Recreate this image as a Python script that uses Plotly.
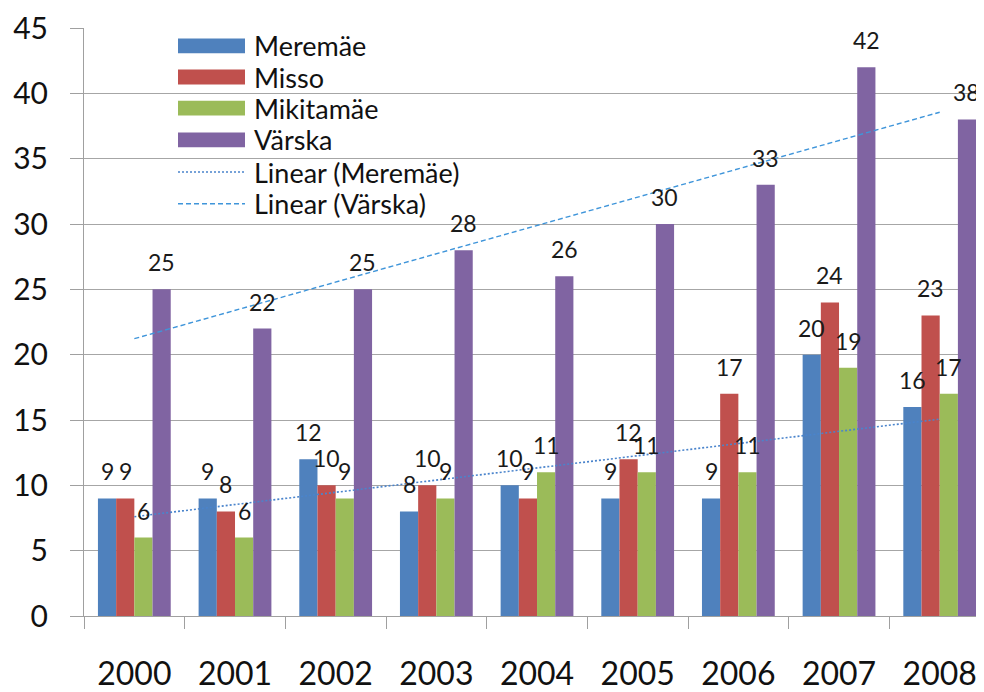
import numpy as np
import plotly.graph_objects as go

years = ["2000", "2001", "2002", "2003", "2004", "2005", "2006", "2007", "2008"]
meremae = [9, 9, 12, 8, 10, 9, 9, 20, 16]
misso = [9, 8, 10, 10, 9, 12, 17, 24, 23]
mikitamae = [6, 6, 9, 9, 11, 11, 11, 19, 17]
varska = [25, 22, 25, 28, 26, 30, 33, 42, 38]

series_names = ["Meremäe", "Misso", "Mikitamäe", "Värska"]
series_values = [meremae, misso, mikitamae, varska]
colors = ["#4F81BD", "#C0504D", "#9BBB59", "#8064A2"]

OFF = 8  # page body margin
W, H = 984 - OFF, 692 - OFF
ML, MR, MT, MB = 84 - OFF, 0, 23 - OFF, 75
PW, PH = W - ML - MR, H - MT - MB
XR = [-0.5, 8.44]
BARGAP = 0.277
FONT = "Lato"
TREND_M = dict(color="#4A84CC", dash="2px,2px", width=1.6)
TREND_V = dict(color="#3F95DA", dash="5px,3px", width=1.4)

fig = go.Figure()
for name, vals, col in zip(series_names, series_values, colors):
    fig.add_trace(go.Bar(x=years, y=vals, name=name,
                         marker=dict(color=col, line=dict(width=0)), showlegend=False))

# linear trendlines computed from data
idx = np.arange(len(years))
for vals, style in [(meremae, TREND_M), (varska, TREND_V)]:
    k, b = np.polyfit(idx, vals, 1)
    fig.add_trace(go.Scatter(x=years, y=k * idx + b, mode="lines", showlegend=False,
                             line=style, hoverinfo="skip"))

# data labels
cat_px = PW / (XR[1] - XR[0])
bar_px = cat_px * (1 - BARGAP) / len(series_names)
annotations = []
for i, vals in enumerate(series_values):
    off = (i - (len(series_names) - 1) / 2) * bar_px
    for j, v in enumerate(vals):
        annotations.append(dict(x=j, y=v, xref="x", yref="y", text=str(v), showarrow=False,
                                xshift=off, yshift=27, yanchor="middle", xanchor="center",
                                font=dict(family=FONT, size=23, color="#1a1a1a")))

# custom legend (page pixel coordinates -> paper)
def px_x(p):
    return (p - OFF - ML) / PW

def px_y(p):
    return 1 - (p - OFF - MT) / PH

shapes = []
leg_rows = [41, 72.5, 104, 136, 168.5, 200.5]
leg_labels = series_names + ["Linear (Meremäe)", "Linear (Värska)"]
for r, (yc, lab) in enumerate(zip(leg_rows, leg_labels)):
    if r < 4:
        shapes.append(dict(type="rect", xref="paper", yref="paper",
                           x0=px_x(178), x1=px_x(245), y0=px_y(yc + 7.5), y1=px_y(yc - 7.5),
                           fillcolor=colors[r], line=dict(width=0)))
    else:
        style = TREND_M if r == 4 else TREND_V
        shapes.append(dict(type="line", xref="paper", yref="paper",
                           x0=px_x(178), x1=px_x(245), y0=px_y(yc), y1=px_y(yc),
                           line=dict(color=style["color"], dash=style["dash"], width=1.4)))
    annotations.append(dict(x=px_x(252), y=px_y(yc), xref="paper", yref="paper", text=lab,
                            showarrow=False, xanchor="left", yanchor="middle",
                            font=dict(family=FONT, size=27, color="#111")))

fig.update_layout(
    width=W, height=H,
    margin=dict(l=ML, r=MR, t=MT, b=MB, pad=0),
    paper_bgcolor="white", plot_bgcolor="white",
    barmode="group", bargap=BARGAP, bargroupgap=0,
    showlegend=False,
    annotations=annotations, shapes=shapes,
    font=dict(family=FONT, color="#111"),
)
fig.update_xaxes(type="category", range=XR, showline=True, linecolor="#A0A0A0", linewidth=1,
                 ticks="outside", ticklen=12, tickcolor="#A0A0A0", tickson="boundaries",
                 showgrid=False, tickfont=dict(family=FONT, size=32, color="#111"),
                 ticklabelstandoff=30, ticklabeloverflow="allow")
fig.update_yaxes(range=[0, 45], dtick=5, tick0=0, showline=True, linecolor="#A0A0A0", linewidth=1,
                 ticks="outside", ticklen=13, tickcolor="#A0A0A0", showgrid=True,
                 gridcolor="#A6A6A6", gridwidth=1, zeroline=False,
                 tickfont=dict(family=FONT, size=30, color="#111"), ticklabelstandoff=16,
                 ticklabeloverflow="allow")

fig.write_html("out.html")
